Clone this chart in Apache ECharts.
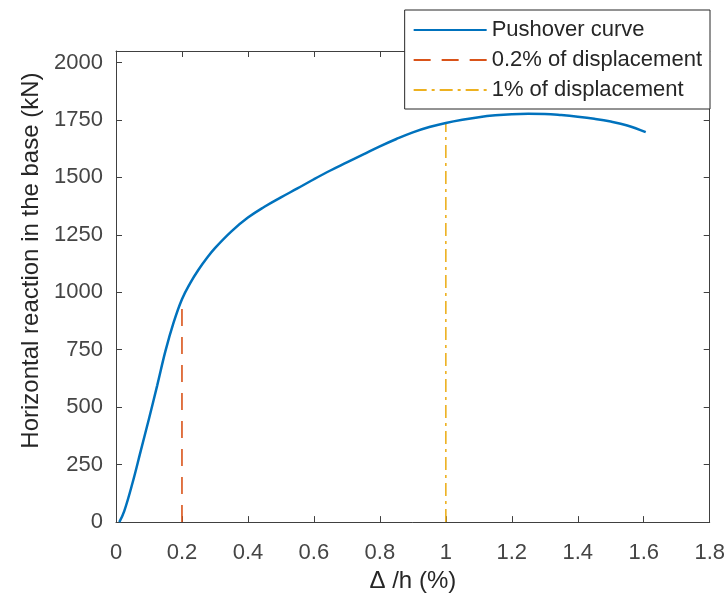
<!DOCTYPE html>
<html>
<head>
<meta charset="utf-8">
<script src="https://cdn.jsdelivr.net/npm/echarts@6/dist/echarts.min.js"></script>
<style>
  html, body { margin: 0; padding: 0; background: #fff; }
  #chart { width: 728px; height: 598px; }
</style>
</head>
<body>
<div id="chart"></div>
<script>
// Pushover analysis: base shear versus drift ratio
const driftPct = [0.01, 0.025, 0.05, 0.075, 0.1, 0.125, 0.15, 0.175, 0.2,
  0.225, 0.25, 0.275, 0.3, 0.35, 0.4, 0.45, 0.5, 0.55, 0.6, 0.65, 0.7, 0.75,
  0.8, 0.85, 0.9, 0.95, 1.0, 1.05, 1.1, 1.15, 1.2, 1.25, 1.3, 1.35, 1.4,
  1.45, 1.5, 1.55, 1.606];
const baseShear = [0, 48, 170, 310, 450, 595, 745, 870, 970,
  1040, 1098, 1148, 1192, 1265, 1325, 1372, 1413, 1452, 1492, 1530, 1565, 1600,
  1635, 1667, 1696, 1719, 1737, 1751, 1762, 1770, 1775, 1777, 1776, 1771, 1764,
  1755, 1743, 1726, 1697];

// Reference drift levels (vertical markers)
const limit02X = [0.2, 0.2];
const limit02Y = [0, 970];
const limit1X = [1, 1];
const limit1Y = [0, 1737];

const seriesNames = ['Pushover curve', '0.2% of displacement', '1% of displacement'];
const xTicks = [0, 0.2, 0.4, 0.6, 0.8, 1, 1.2, 1.4, 1.6, 1.8];
const yTicks = [0, 250, 500, 750, 1000, 1250, 1500, 1750, 2000];

const pairs = (xs, ys) => xs.map((x, i) => [x, ys[i]]);

const FONT = '"Liberation Sans", Arial, Helvetica, sans-serif';
const AXIS_COLOR = '#404040';

function axisCommon(showLabels) {
  return {
    type: 'value',
    axisLine: { show: true, onZero: false, lineStyle: { color: AXIS_COLOR, width: 1 } },
    splitLine: { show: false },
    axisTick: { show: true, inside: true, length: 6, lineStyle: { color: AXIS_COLOR, width: 1 } },
    axisLabel: {
      show: showLabels, color: '#454545', fontFamily: FONT, fontSize: 22,
      formatter: (v) => String(v)
    }
  };
}

const xBottom = axisCommon(true);
Object.assign(xBottom, {
  position: 'bottom', min: 0, max: 1.8,
  name: 'Δ /h (%)', nameLocation: 'middle', nameGap: 30,
  nameTextStyle: { color: '#262626', fontFamily: FONT, fontSize: 24 }
});
xBottom.axisTick.customValues = xTicks;
xBottom.axisLabel.customValues = xTicks;
xBottom.axisLabel.margin = 20;

const xTop = axisCommon(false);
Object.assign(xTop, { position: 'top', min: 0, max: 1.8 });
xTop.axisTick.customValues = xTicks;

const yLeft = axisCommon(true);
Object.assign(yLeft, {
  position: 'left', min: 0, max: 2050,
  name: 'Horizontal reaction in the base (kN)', nameLocation: 'middle', nameGap: 68,
  nameTextStyle: { color: '#262626', fontFamily: FONT, fontSize: 24, padding: [0, 0, 0, 52] }
});
yLeft.axisTick.customValues = yTicks;
yLeft.axisLabel.customValues = yTicks;
yLeft.axisLabel.margin = 13;

const yRight = axisCommon(false);
Object.assign(yRight, { position: 'right', min: 0, max: 2050 });
yRight.axisTick.customValues = yTicks;

const chart = echarts.init(document.getElementById('chart'), null, { renderer: 'canvas' });
chart.setOption({
  animation: false,
  backgroundColor: '#fff',
  grid: { left: 116, top: 51, right: 18, bottom: 72, containLabel: false },
  xAxis: [xBottom, xTop],
  yAxis: [yLeft, yRight],
  legend: {
    data: seriesNames,
    orient: 'vertical',
    right: 18,
    top: 10,
    itemWidth: 73,
    itemHeight: 14,
    itemGap: 8,
    padding: [9, 8, 8, 8],
    backgroundColor: '#fff',
    borderColor: '#262626',
    borderWidth: 1,
    itemStyle: { opacity: 0 },
    textStyle: { color: '#262626', fontFamily: FONT, fontSize: 22 }
  },
  series: [
    {
      name: seriesNames[0], type: 'line', xAxisIndex: 0, yAxisIndex: 0,
      data: pairs(driftPct, baseShear),
      symbol: 'none', smooth: 0.4,
      lineStyle: { color: '#0072BD', width: 2.5 },
      itemStyle: { color: '#0072BD' },
      z: 3
    },
    {
      name: seriesNames[1], type: 'line', xAxisIndex: 0, yAxisIndex: 0,
      data: pairs(limit02X, limit02Y),
      symbol: 'none',
      lineStyle: { color: '#D95319', width: 1.6, type: [17, 11] },
      itemStyle: { color: '#D95319' },
      z: 2
    },
    {
      name: seriesNames[2], type: 'line', xAxisIndex: 0, yAxisIndex: 0,
      data: pairs(limit1X, limit1Y),
      symbol: 'none',
      lineStyle: { color: '#EDB120', width: 1.6, type: [13, 5, 3, 5] },
      itemStyle: { color: '#EDB120' },
      z: 2
    }
  ]
});
</script>
</body>
</html>
